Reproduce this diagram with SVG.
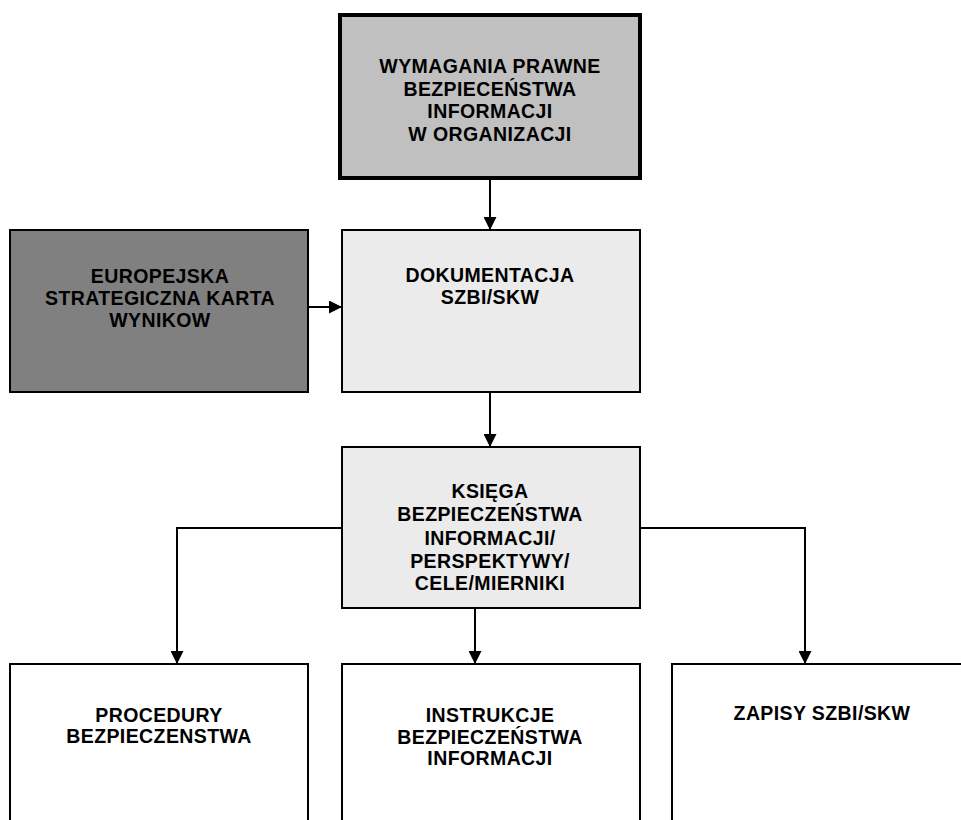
<svg xmlns="http://www.w3.org/2000/svg" width="961" height="820" viewBox="0 0 961 820">
<defs>
<marker id="ah" markerWidth="13" markerHeight="13" refX="12" refY="6.5" orient="auto" markerUnits="userSpaceOnUse">
<path d="M0,0 L13,6.5 L0,13 Z" fill="#000"/>
</marker>
<style>
.box{stroke:#000;stroke-width:2}
.t{font-family:"Liberation Sans",Arial,sans-serif;font-weight:bold;font-size:19.5px;letter-spacing:0.4px;fill:#000;text-anchor:middle}
.c{fill:none;stroke:#000;stroke-width:2}
</style>
</defs>
<rect width="961" height="820" fill="#fff"/>
<g id="connectors">
<line class="c" x1="490" y1="180" x2="490" y2="229" marker-end="url(#ah)"/>
<line class="c" x1="309" y1="307" x2="341" y2="307" marker-end="url(#ah)"/>
<line class="c" x1="490" y1="393" x2="490" y2="446" marker-end="url(#ah)"/>
<polyline class="c" points="342,528 177,528 177,663" marker-end="url(#ah)"/>
<line class="c" x1="475" y1="609" x2="475" y2="663" marker-end="url(#ah)"/>
<polyline class="c" points="640,528 805,528 805,663" marker-end="url(#ah)"/>
</g>
<g id="wymagania">
<rect x="340" y="15" width="300" height="163" fill="#c0c0c0" stroke="#000" stroke-width="4"/>
<text class="t" x="490" y="73">WYMAGANIA PRAWNE</text>
<text class="t" x="490" y="96">BEZPIECEŃSTWA</text>
<text class="t" x="490" y="118">INFORMACJI</text>
<text class="t" x="490" y="141">W ORGANIZACJI</text>
</g>
<g id="europejska">
<rect class="box" x="10" y="230" width="298" height="162" fill="#808080"/>
<text class="t" x="160" y="283">EUROPEJSKA</text>
<text class="t" x="160" y="305">STRATEGICZNA KARTA</text>
<text class="t" x="160" y="327">WYNIKOW</text>
</g>
<g id="dokumentacja">
<rect class="box" x="342" y="230" width="298" height="162" fill="#ebebeb"/>
<text class="t" x="490" y="282">DOKUMENTACJA</text>
<text class="t" x="490" y="304">SZBI/SKW</text>
</g>
<g id="ksiega">
<rect class="box" x="342" y="447" width="298" height="161" fill="#ebebeb"/>
<text class="t" x="490" y="498">KSIĘGA</text>
<text class="t" x="490" y="521">BEZPIECZEŃSTWA</text>
<text class="t" x="490" y="545">INFORMACJI/</text>
<text class="t" x="490" y="568">PERSPEKTYWY/</text>
<text class="t" x="490" y="590">CELE/MIERNIKI</text>
</g>
<g id="procedury">
<rect class="box" x="10" y="664" width="298" height="170" fill="#fff"/>
<text class="t" x="159" y="722">PROCEDURY</text>
<text class="t" x="159" y="743">BEZPIECZENSTWA</text>
</g>
<g id="instrukcje">
<rect class="box" x="342" y="664" width="298" height="170" fill="#fff"/>
<text class="t" x="490" y="722">INSTRUKCJE</text>
<text class="t" x="490" y="744">BEZPIECZEŃSTWA</text>
<text class="t" x="490" y="765">INFORMACJI</text>
</g>
<g id="zapisy">
<rect class="box" x="672" y="664" width="300" height="170" fill="#fff"/>
<text class="t" x="822" y="720">ZAPISY SZBI/SKW</text>
</g>
</svg>
